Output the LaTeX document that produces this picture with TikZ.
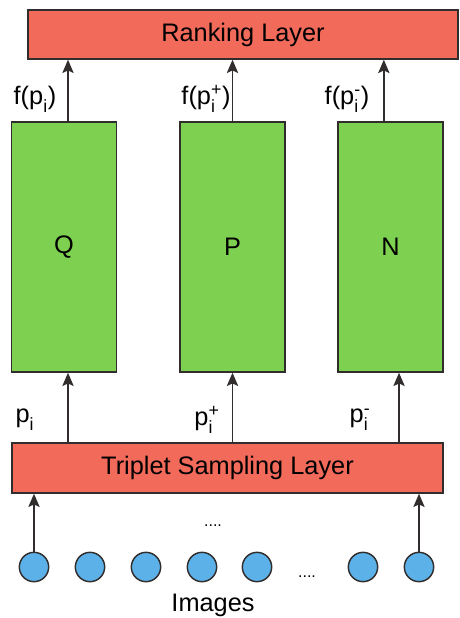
\documentclass[tikz,border=0pt]{standalone}
\usepackage{amsmath}
\usepackage{fontspec}
\setmainfont{Liberation Sans}
\usetikzlibrary{arrows.meta}

\definecolor{layerred}{RGB}{242,106,90}
\definecolor{netgreen}{RGB}{126,208,80}
\definecolor{imgblue}{RGB}{92,178,232}
\definecolor{edgegray}{RGB}{50,45,45}

\newcommand{\pidx}[1]{p$^{\text{#1}}_{\text{i}}$}

\tikzset{every picture/.style={line width=1.1pt}}
\tikzset{
layerbox/.style={draw=edgegray, fill=layerred, inner sep=0pt, font=\fontsize{19}{22}\selectfont},
netbox/.style={draw=edgegray, fill=netgreen, inner sep=0pt, minimum width=78.5pt, minimum height=187.5pt, font=\fontsize{19}{22}\selectfont},
imgdot/.style={circle, draw=edgegray, fill=imgblue, inner sep=0pt, minimum size=22pt},
lbl/.style={inner sep=0.75pt, font=\fontsize{19}{22}\selectfont},
flow/.style={draw=edgegray, -{Stealth[length=10pt,width=8.5pt,inset=2pt]}}}

\begin{document}
\begin{tikzpicture}[x=0.75pt,y=0.75pt,yscale=-1,xscale=1]
\useasboundingbox (0,0) rectangle (460,618);

%Shape: Rectangle [id:rank]
\node [layerbox, minimum width=322.5pt, minimum height=36.75pt] (rank) at (243,34.5) {Ranking Layer};
%Shape: Rectangle [id:trip]
\node [layerbox, minimum width=323.25pt, minimum height=37.5pt] (trip) at (227.5,468) {Triplet Sampling Layer};

%Shape: Rectangle [id:q]
\node [netbox] (q) at (64,247) {Q};
%Shape: Rectangle [id:p]
\node [netbox] (p) at (232.5,247) {P};
%Shape: Rectangle [id:n]
\node [netbox] (n) at (390.5,247) {N};

%Straight Lines: nets to ranking
\draw [flow] ([xshift=3pt]q.north) -- ([xshift=3pt]q.north |- rank.south);
\draw [flow] (p.north) -- (p.north |- rank.south);
\draw [flow] ([xshift=-5pt]n.north) -- ([xshift=-5pt]n.north |- rank.south);
%Straight Lines: sampling to nets
\draw [flow] ([xshift=3pt]q.south |- trip.north) -- ([xshift=3pt]q.south);
\draw [flow] (p.south |- trip.north) -- (p.south);
\draw [flow] ([xshift=6.4pt]n.south |- trip.north) -- ([xshift=6.4pt]n.south);

%Shape: Circles
\foreach \cx [count=\k] in {34,90,146,202,257,363,419}
  \node [imgdot] (img\k) at (\cx,567) {};
%Straight Lines: images to sampling
\draw [flow] (img1.north) -- (img1 |- trip.south);
\draw [flow] (img7.north) -- (img7 |- trip.south);

% Text Node
\node [lbl] (fq) at (35,99) {f(\pidx{})};
% Text Node
\node [lbl] (fp) at (206,99) {f(\pidx{+})};
% Text Node
\node [lbl] (fn) at (347,99) {f(\pidx{-})};
% Text Node
\node [lbl] (xq) at (25,420) {\pidx{}};
% Text Node
\node [lbl] (xp) at (207,420) {\pidx{+}};
% Text Node
\node [lbl] (xn) at (360,420) {\pidx{-}};
% Text Node
\node [lbl, font=\fontsize{12}{14}\selectfont] (dots1) at (213,526) {....};
% Text Node
\node [lbl, font=\fontsize{12}{14}\selectfont] (dots2) at (307,577) {....};
% Text Node
\node [lbl] (imgs) at (213,605) {Images};

\end{tikzpicture}
\end{document}
